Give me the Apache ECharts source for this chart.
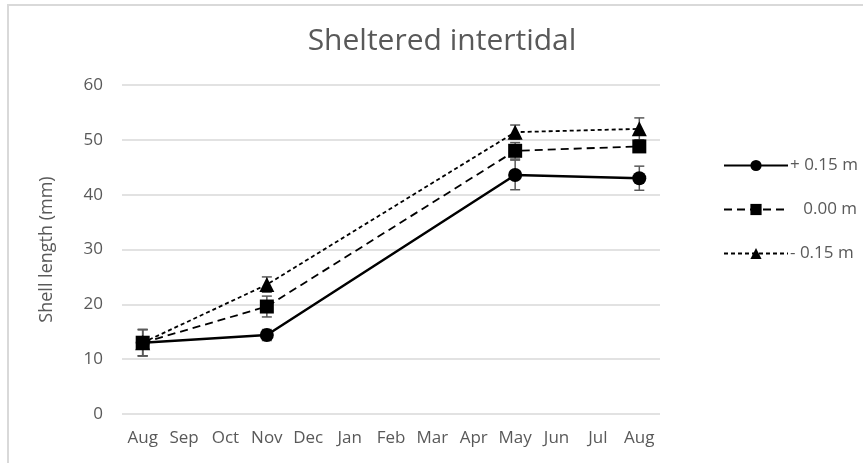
<!DOCTYPE html>
<html>
<head>
<meta charset="utf-8">
<script src="https://cdn.jsdelivr.net/npm/echarts@6/dist/echarts.min.js"></script>
<style>
  html, body { margin: 0; padding: 0; background: #fff; }
  #chart { width: 863px; height: 463px; }
</style>
</head>
<body>
<div id="chart"></div>
<script>
// months along the x axis (Aug to Aug)
var months = ["Aug", "Sep", "Oct", "Nov", "Dec", "Jan", "Feb", "Mar", "Apr", "May", "Jun", "Jul", "Aug"];
var seriesNames = ["+ 0.15 m", "0.00 m", "- 0.15 m"];

// mean shell length, null = no sample that month
var high = [13.0, null, null, 14.4, null, null, null, null, null, 43.6, null, null, 43.0];
var mid = [13.0, null, null, 19.6, null, null, null, null, null, 48.0, null, null, 48.8];
var low = [13.0, null, null, 23.6, null, null, null, null, null, 51.4, null, null, 52.0];

// error bar half widths
var highErr = [2.4, null, null, 1.0, null, null, null, null, null, 2.7, null, null, 2.2];
var midErr = [2.4, null, null, 1.9, null, null, null, null, null, 1.5, null, null, 1.0];
var lowErr = [2.4, null, null, 1.4, null, null, null, null, null, 1.3, null, null, 2.0];

var yTicks = [0, 10, 20, 30, 40, 50, 60];

var txt = "#595959";

function errData(vals, errs) {
  var out = [];
  for (var i = 0; i < vals.length; i++) {
    if (vals[i] != null && errs[i] != null) {
      out.push([i, vals[i] - errs[i], vals[i] + errs[i]]);
    }
  }
  return out;
}

function errSeries(vals, errs) {
  return {
    type: "custom",
    silent: true,
    z: 1,
    data: errData(vals, errs),
    encode: { x: 0, y: [1, 2] },
    renderItem: function (params, api) {
      var lo = api.coord([api.value(0), api.value(1)]);
      var hi = api.coord([api.value(0), api.value(2)]);
      var w = 5;
      var st = { stroke: txt, lineWidth: 1.5 };
      return {
        type: "group",
        children: [
          { type: "line", shape: { x1: hi[0], y1: hi[1], x2: lo[0], y2: lo[1] }, style: st },
          { type: "line", shape: { x1: hi[0] - w, y1: hi[1], x2: hi[0] + w, y2: hi[1] }, style: st },
          { type: "line", shape: { x1: lo[0] - w, y1: lo[1], x2: lo[0] + w, y2: lo[1] }, style: st }
        ]
      };
    }
  };
}

var myChart = echarts.init(document.getElementById("chart"));
myChart.setOption({
  animation: false,
  textStyle: { fontFamily: "Open Sans" },
  title: {
    text: "Sheltered intertidal",
    left: 437,
    top: 21,
    textAlign: "center",
    textStyle: { color: txt, fontSize: 30, fontWeight: "normal", fontFamily: "Open Sans" }
  },
  graphic: [
    {
      type: "rect",
      shape: { x: 8, y: 5, width: 900, height: 500 },
      style: { fill: "none", stroke: "#d9d9d9", lineWidth: 2 },
      silent: true
    }
  ],
  legend: {
    orient: "vertical",
    left: 718,
    top: 152,
    itemWidth: 64,
    itemHeight: 14,
    itemGap: 27,
    data: seriesNames,
    formatter: function (name) {
      return name === "0.00 m" ? "   " + name : name;
    },
    textStyle: { color: txt, fontSize: 17, padding: [0, 0, 0, -3] }
  },
  grid: {
    left: 122,
    right: 203,
    top: 85,
    bottom: 49
  },
  xAxis: {
    type: "category",
    data: months,
    boundaryGap: true,
    axisLine: { show: false },
    axisTick: { show: false },
    axisLabel: { color: txt, fontSize: 17, interval: 0, margin: 16 }
  },
  yAxis: {
    type: "value",
    min: yTicks[0],
    max: yTicks[yTicks.length - 1],
    interval: 10,
    name: "Shell length (mm)",
    nameLocation: "middle",
    nameGap: 66,
    nameTextStyle: { color: txt, fontSize: 18 },
    axisLine: { show: false },
    axisTick: { show: false },
    axisLabel: { color: txt, fontSize: 17, margin: 19 },
    splitLine: { lineStyle: { color: "#d9d9d9", width: 1.5 } }
  },
  series: [
    errSeries(high, highErr),
    errSeries(mid, midErr),
    errSeries(low, lowErr),
    {
      name: seriesNames[0],
      type: "line",
      data: high,
      connectNulls: true,
      z: 4,
      symbol: "circle",
      symbolSize: 14,
      itemStyle: { color: "#000" },
      lineStyle: { color: "#000", width: 2.5 }
    },
    {
      name: seriesNames[1],
      type: "line",
      data: mid,
      connectNulls: true,
      z: 3,
      symbol: "rect",
      symbolSize: 14,
      itemStyle: { color: "#000" },
      lineStyle: { color: "#000", width: 1.8, type: [8, 5] }
    },
    {
      name: seriesNames[2],
      type: "line",
      data: low,
      connectNulls: true,
      z: 2,
      symbol: "triangle",
      symbolSize: 15,
      itemStyle: { color: "#000" },
      lineStyle: { color: "#000", width: 1.8, type: [4, 3] }
    }
  ]
});
</script>
</body>
</html>
